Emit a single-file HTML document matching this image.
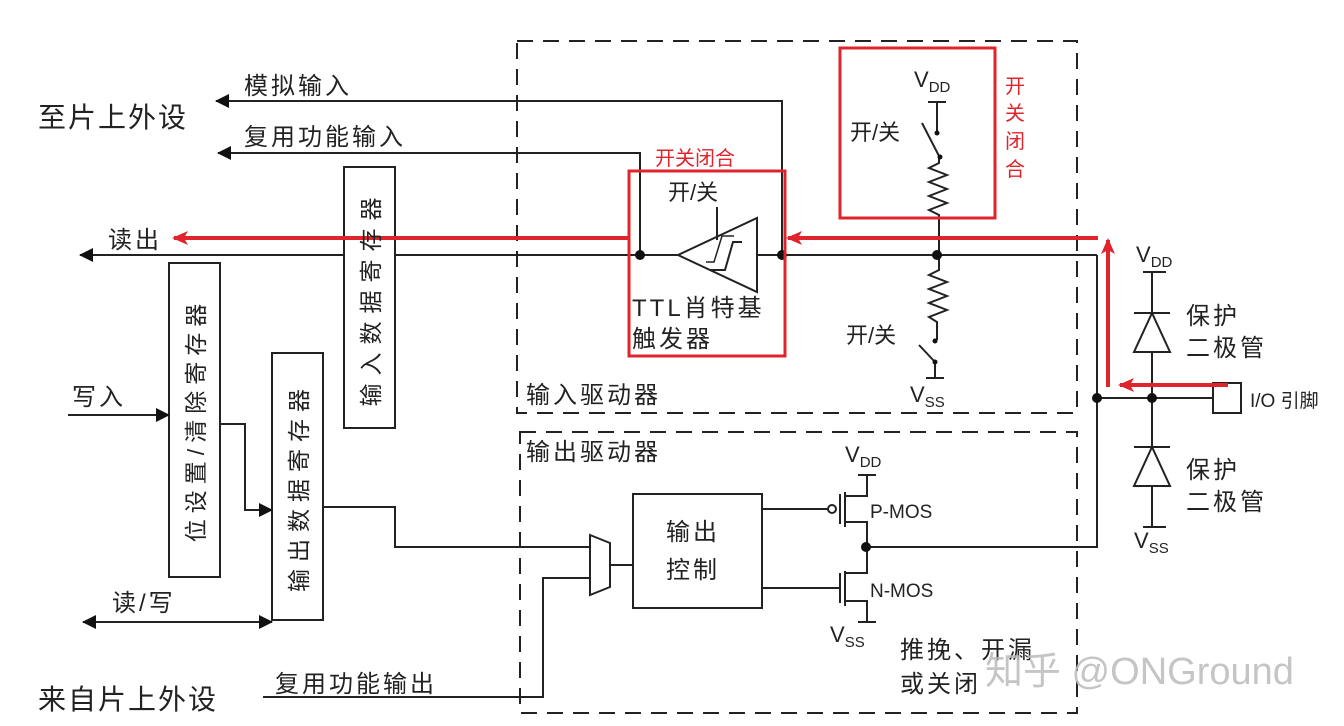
<!DOCTYPE html>
<html><head><meta charset="utf-8"><style>
html,body{margin:0;padding:0;background:#fff;}
svg{display:block;}
text{font-family:"Liberation Sans","Noto Sans CJK SC",sans-serif;fill:#222;}
.r{fill:#e0242c;}
.l{font-size:24px;letter-spacing:3px;}
</style></head><body>
<svg width="1344" height="726" viewBox="0 0 1344 726" xmlns="http://www.w3.org/2000/svg">
<defs>
<marker id="ab" markerWidth="14" markerHeight="14" refX="13" refY="7" orient="auto-start-reverse" markerUnits="userSpaceOnUse"><path d="M0,0 L14,7 L0,14 z" fill="#111"/></marker>
<marker id="ra" markerWidth="16" markerHeight="14" refX="14" refY="7" orient="auto" markerUnits="userSpaceOnUse"><path d="M0,0 L16,7 L0,14 L4,7 z" fill="#e0242c"/></marker>
</defs>
<g fill="none" stroke="#222" stroke-width="2">
<rect x="517" y="41" width="560" height="372" stroke-dasharray="16,10"/>
<rect x="520" y="432" width="557" height="281" stroke-dasharray="16,10"/>
<polyline points="782,255 782,101 216,101" marker-end="url(#ab)"/>
<polyline points="640,255 640,153 218,153" marker-end="url(#ab)"/>
<line x1="678" y1="255" x2="80" y2="255" marker-end="url(#ab)"/>
<line x1="757" y1="255" x2="1097" y2="255"/>
<rect x="344" y="167" width="51" height="261" fill="#fff"/>
<polygon points="678,255 757,218 757,292" fill="#fff"/>
<line x1="717" y1="207" x2="717" y2="240"/>
<polyline points="710,270 725,270 733,242 742,242"/>
<polyline points="706,262 714,262 722,236 734,236" stroke-width="1.5"/>
<line x1="928" y1="102" x2="946" y2="102"/>
<line x1="937" y1="102" x2="937" y2="134"/>
<line x1="922" y1="123" x2="939" y2="156"/>
<polyline points="939,156 939,163 929,168 947,175 929,182 947,189 929,196 947,203 929,210 939,215 939,270 929,275 947,282 929,289 947,296 929,303 947,310 929,317 937,322 937,340"/>
<line x1="919" y1="345" x2="935" y2="362"/>
<line x1="935" y1="362" x2="935" y2="378"/>
<line x1="926" y1="378" x2="944" y2="378"/>
<polyline points="1097,255 1097,547 866,547"/>
<line x1="1097" y1="398" x2="1213" y2="398"/>
<rect x="1213" y="383" width="28" height="30" fill="#fff"/>
<line x1="1143" y1="272" x2="1166" y2="272"/>
<line x1="1152" y1="272" x2="1152" y2="527"/>
<line x1="1134" y1="313" x2="1170" y2="313"/>
<polygon points="1152,313 1134,352 1170,352" fill="#fff"/>
<line x1="1134" y1="447" x2="1170" y2="447"/>
<polygon points="1152,447 1134,486 1170,486" fill="#fff"/>
<line x1="1143" y1="527" x2="1166" y2="527"/>
<polygon points="590,535 610,543 610,587 590,595" fill="#fff"/>
<line x1="610" y1="565" x2="633" y2="565"/>
<rect x="633" y="494" width="129" height="114" fill="#fff"/>
<line x1="762" y1="509" x2="828" y2="509"/>
<circle cx="832" cy="509" r="4" fill="#fff"/>
<line x1="840" y1="494" x2="840" y2="524"/>
<line x1="845" y1="492" x2="845" y2="527"/>
<polyline points="845,496 867,496 867,475"/>
<line x1="858" y1="475" x2="876" y2="475"/>
<polyline points="845,522 867,522 867,573 845,573"/>
<line x1="762" y1="588" x2="840" y2="588"/>
<line x1="840" y1="573" x2="840" y2="603"/>
<line x1="845" y1="571" x2="845" y2="606"/>
<polyline points="845,601 867,601 867,622"/>
<line x1="858" y1="622" x2="876" y2="622"/>
<rect x="169" y="263" width="51" height="314" fill="#fff"/>
<rect x="272" y="353" width="51" height="267" fill="#fff"/>
<line x1="68" y1="415" x2="169" y2="415" marker-end="url(#ab)"/>
<polyline points="220,424 245,424 245,510 272,510" marker-end="url(#ab)"/>
<polyline points="323,507 395,507 395,547 590,547"/>
<line x1="83" y1="622" x2="272" y2="622" marker-start="url(#ab)" marker-end="url(#ab)"/>
<polyline points="263,697 543,697 543,578 590,578"/>
</g>
<g fill="#111">
<circle cx="640" cy="255" r="5"/><circle cx="782" cy="255" r="5"/><circle cx="937" cy="255" r="5"/>
<circle cx="1097" cy="398" r="5"/><circle cx="1152" cy="398" r="5"/><circle cx="866" cy="547" r="5"/>
<circle cx="937" cy="133" r="2.5"/><circle cx="940" cy="157" r="2.5"/><circle cx="935" cy="341" r="2.5"/><circle cx="935" cy="362" r="2.5"/>
</g>
<g fill="none" stroke="#e0242c" stroke-width="4">
<rect x="629" y="171" width="156" height="185" stroke-width="3"/>
<rect x="840" y="48" width="155" height="170" stroke-width="3"/>
<line x1="629" y1="238" x2="174" y2="238" marker-end="url(#ra)"/>
<line x1="1098" y1="238" x2="788" y2="238" marker-end="url(#ra)"/>
<line x1="1108" y1="387" x2="1108" y2="240" marker-end="url(#ra)"/>
<line x1="1228" y1="385" x2="1120" y2="385" marker-end="url(#ra)"/>
</g>
<g font-size="22">
<text x="38" y="127" font-size="28" letter-spacing="2">至片上外设</text>
<text x="38" y="709" font-size="28" letter-spacing="2">来自片上外设</text>
<text class="l" x="244" y="94">模拟输入</text>
<text class="l" x="244" y="145">复用功能输入</text>
<text class="l" x="108" y="248">读出</text>
<text class="l" x="72" y="405">写入</text>
<text class="l" x="112" y="611">读/写</text>
<text class="l" x="275" y="692">复用功能输出</text>
<text class="l" x="526" y="403">输入驱动器</text>
<text class="l" x="526" y="460">输出驱动器</text>
<text class="r" x="655" y="165" font-size="20">开关闭合</text>
<text class="r" x="1005" y="93" font-size="20">开</text>
<text class="r" x="1005" y="120" font-size="20">关</text>
<text class="r" x="1005" y="148" font-size="20">闭</text>
<text class="r" x="1005" y="176" font-size="20">合</text>
<text x="668" y="200">开/关</text>
<text class="l" x="632" y="316">TTL肖特基</text>
<text class="l" x="632" y="347">触发器</text>
<text x="850" y="140">开/关</text>
<text x="846" y="343">开/关</text>
<text x="914" y="87">V<tspan font-size="15" dy="5">DD</tspan></text>
<text x="910" y="402">V<tspan font-size="15" dy="5">SS</tspan></text>
<text x="1136" y="262">V<tspan font-size="15" dy="5">DD</tspan></text>
<text x="1134" y="548">V<tspan font-size="15" dy="5">SS</tspan></text>
<text x="845" y="462">V<tspan font-size="15" dy="5">DD</tspan></text>
<text x="830" y="642">V<tspan font-size="15" dy="5">SS</tspan></text>
<text class="l" x="1186" y="324">保护</text>
<text class="l" x="1186" y="356">二极管</text>
<text class="l" x="1186" y="478">保护</text>
<text class="l" x="1186" y="510">二极管</text>
<text x="1250" y="407" font-size="19">I/O 引脚</text>
<text x="666" y="540" font-size="24" letter-spacing="3">输出</text>
<text x="666" y="578" font-size="24" letter-spacing="3">控制</text>
<text x="870" y="518" font-size="19">P-MOS</text>
<text x="870" y="597" font-size="19">N-MOS</text>
<text class="l" x="900" y="658">推挽、开漏</text>
<text class="l" x="900" y="692">或关闭</text>
<text transform="translate(379,298) rotate(-90)" text-anchor="middle" letter-spacing="8" font-size="23">输入数据寄存器</text>
<text transform="translate(204,420) rotate(-90)" text-anchor="middle" letter-spacing="6" font-size="23">位设置/清除寄存器</text>
<text transform="translate(307,487) rotate(-90)" text-anchor="middle" letter-spacing="7" font-size="23">输出数据寄存器</text>
<text x="985" y="684" font-size="38" style="fill:#bbb;opacity:0.85">知乎 @ONGround</text>
</g>
</svg>
</body></html>
